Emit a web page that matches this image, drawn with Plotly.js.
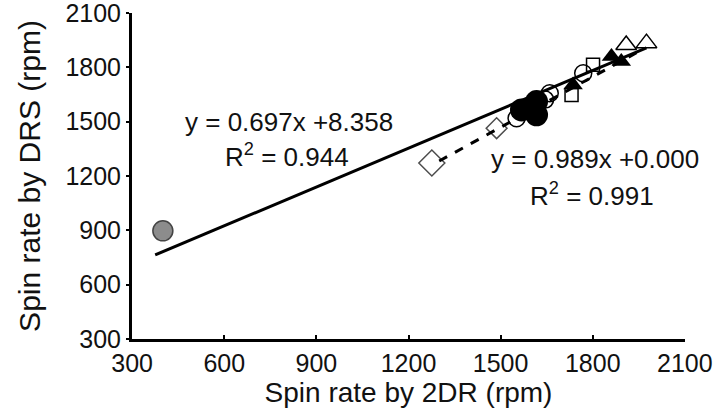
<!DOCTYPE html>
<html>
<head>
<meta charset="utf-8">
<script src="https://cdn.plot.ly/plotly-3.0.1.min.js"></script>
<style>html,body{margin:0;padding:0;background:#fff;}#chart{width:714px;height:415px;}</style>
</head>
<body>
<div id="chart"></div>
<script>
// ---- data ----
const tickValues = [300, 600, 900, 1200, 1500, 1800, 2100];

const outlierX = [400];
const outlierY = [897];

const diamondX = [1276, 1487];
const diamondY = [1272, 1464];

const openCircleX = [1552, 1645, 1660, 1769];
const openCircleY = [1519, 1622, 1657, 1768];

const blackCircleX = [1568, 1617, 1617];
const blackCircleY = [1565, 1611, 1538];

const filledTriX = [1736, 1861, 1893];
const filledTriY = [1703, 1860, 1832];

const openTriX = [1909, 1975];
const openTriY = [1924, 1934];

const openSquareX = [1731, 1801];
const openSquareY = [1648, 1814];

// fitted lines (end points)
const solidFitX = [375, 1975];
const solidFitY = [764, 1908];
const dashedFitX = [1300, 1963];
const dashedFitY = [1283, 1900];

const eq1 = ["y = 0.697x +8.358", "R<sup>2</sup> = 0.944"];
const eq2 = ["y = 0.989x +0.000", "R<sup>2</sup> = 0.991"];

const xTitle = "Spin rate by 2DR (rpm)";
const yTitle = "Spin rate by DRS (rpm)";

const FONT = "Liberation Sans, Arial, Helvetica, sans-serif";

const traces = [
  {x: solidFitX, y: solidFitY, mode: "lines", line: {color: "#000", width: 3}, hoverinfo: "skip"},
  {x: dashedFitX, y: dashedFitY, mode: "lines", line: {color: "#000", width: 3, dash: "dash"}, hoverinfo: "skip"},
  {x: outlierX, y: outlierY, mode: "markers",
   marker: {symbol: "circle", size: 20, color: "#8c8c8c", line: {color: "#444", width: 1.5}}},
  {x: diamondX, y: diamondY, mode: "markers",
   marker: {symbol: "diamond-open", size: [20, 16], color: "#000", line: {color: "#000", width: 1.5}}},
  {x: openCircleX, y: openCircleY, mode: "markers",
   marker: {symbol: "circle-open", size: 17, color: "#000", line: {color: "#000", width: 1.5}}},
  {x: openSquareX, y: openSquareY, mode: "markers",
   marker: {symbol: "square-open", size: 13, color: "#000", line: {color: "#000", width: 1.5}}},
  {x: blackCircleX, y: blackCircleY, mode: "markers",
   marker: {symbol: "circle", size: 23, color: "#000"}},
  {x: filledTriX, y: filledTriY, mode: "markers",
   marker: {symbol: "triangle-up", size: 17, color: "#000"}},
  {x: openTriX, y: openTriY, mode: "markers",
   marker: {symbol: "triangle-up-open", size: 18, color: "#000", line: {color: "#000", width: 1.5}}}
];

function ann(text, x, y) {
  return {text: text, xref: "paper", yref: "paper", x: x, y: y,
          xanchor: "center", yanchor: "middle", showarrow: false,
          font: {family: FONT, size: 26, color: "#111"}};
}

const layout = {
  width: 714, height: 415,
  margin: {l: 132, r: 29, t: 13, b: 76},
  paper_bgcolor: "#fff", plot_bgcolor: "#fff",
  showlegend: false,
  font: {family: FONT, color: "#111"},
  xaxis: {
    range: [299.5, 2100.5], tickvals: tickValues, ticktext: tickValues.map(String),
    showline: true, linecolor: "#000", linewidth: 3,
    ticks: "inside", ticklen: 4, tickwidth: 2, tickcolor: "#000",
    showgrid: false, zeroline: false, ticklabeloverflow: "allow",
    tickfont: {family: FONT, size: 25, color: "#111"},
    title: {text: xTitle, font: {family: FONT, size: 28, color: "#111"}, standoff: 6}
  },
  yaxis: {
    range: [299.5, 2100.5], tickvals: tickValues, ticktext: tickValues.map(String),
    showline: true, linecolor: "#000", linewidth: 3,
    ticks: "outside", ticklen: 3, tickwidth: 2, tickcolor: "#000",
    showgrid: false, zeroline: false, ticklabeloverflow: "allow",
    tickfont: {family: FONT, size: 25, color: "#111"},
    title: {text: yTitle + "\u00a0\u00a0\u00a0", font: {family: FONT, size: 30, color: "#111"}, standoff: 16}
  },
  annotations: [
    ann(eq1[0], 0.284, 0.666),
    ann(eq1[1], 0.280, 0.564),
    ann(eq2[0], 0.837, 0.552),
    ann(eq2[1], 0.832, 0.442)
  ]
};

Plotly.newPlot("chart", traces, layout, {displayModeBar: false, staticPlot: true});
</script>
</body>
</html>
